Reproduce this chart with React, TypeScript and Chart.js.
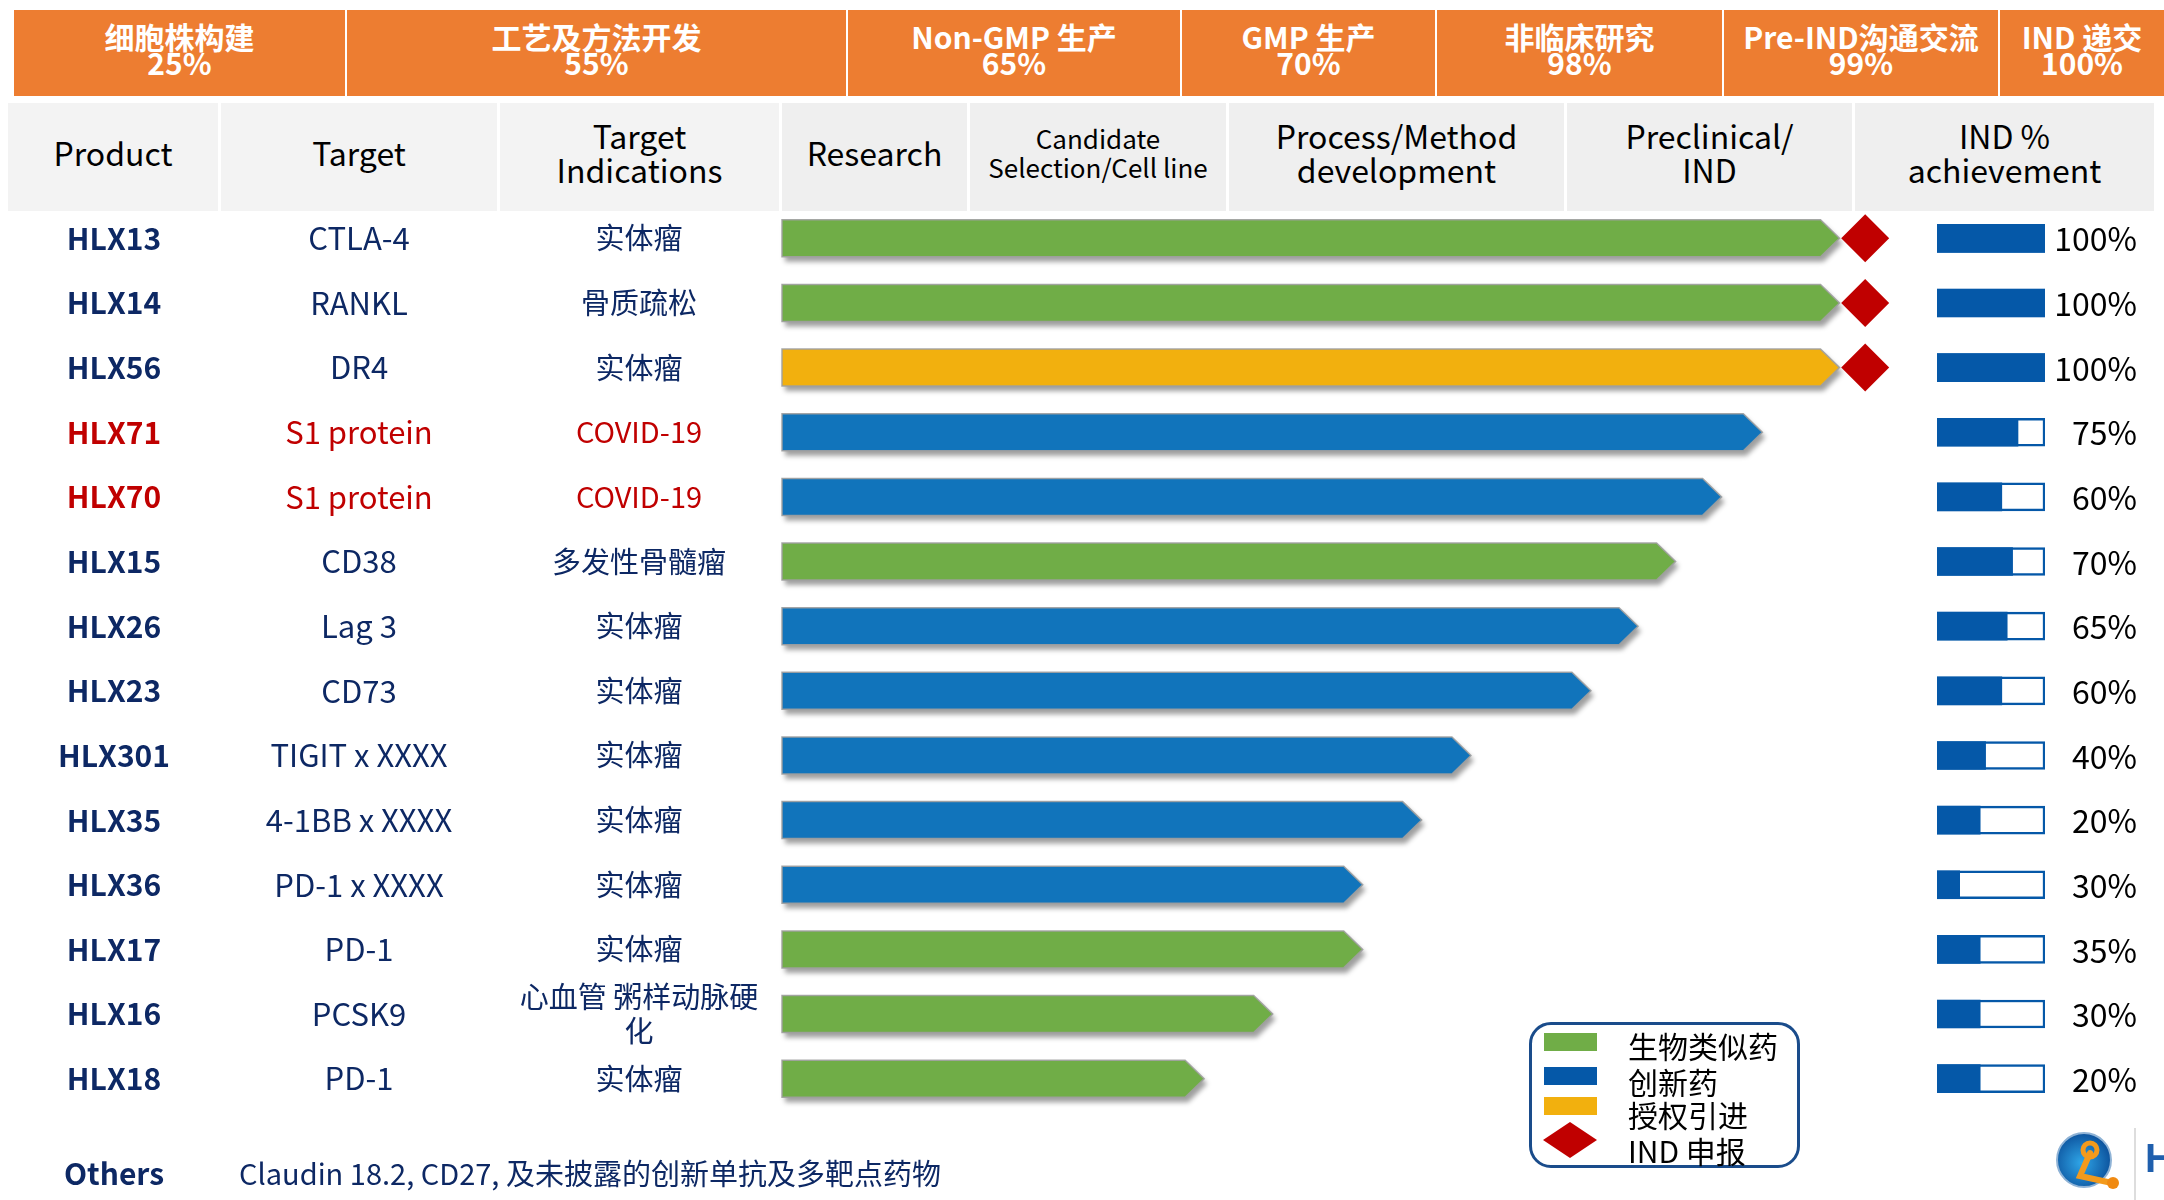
import React, { useEffect, useRef } from 'react';
import { Chart, registerables } from 'chart.js';

Chart.register(...registerables);

// ---------- data ----------
const stageHeaders = ['细胞株构建', '工艺及方法开发', 'Non-GMP 生产', 'GMP 生产', '非临床研究', 'Pre-IND沟通交流', 'IND 递交'];
const stagePercents = ['25%', '55%', '65%', '70%', '98%', '99%', '100%'];
const columnHeaders = ['Product', 'Target', 'Target\nIndications', 'Research', 'Candidate\nSelection/Cell line', 'Process/Method\ndevelopment', 'Preclinical/\nIND', 'IND %\nachievement'];

const products = ['HLX13', 'HLX14', 'HLX56', 'HLX71', 'HLX70', 'HLX15', 'HLX26', 'HLX23', 'HLX301', 'HLX35', 'HLX36', 'HLX17', 'HLX16', 'HLX18'];
const targets = ['CTLA-4', 'RANKL', 'DR4', 'S1 protein', 'S1 protein', 'CD38', 'Lag 3', 'CD73', 'TIGIT x XXXX', '4-1BB x XXXX', 'PD-1 x XXXX', 'PD-1', 'PCSK9', 'PD-1'];
const indications = ['实体瘤', '骨质疏松', '实体瘤', 'COVID-19', 'COVID-19', '多发性骨髓瘤', '实体瘤', '实体瘤', '实体瘤', '实体瘤', '实体瘤', '实体瘤', '心血管 粥样动脉硬\n化', '实体瘤'];
const highlighted = [false, false, false, true, true, false, false, false, false, false, false, false, false, false];
const drugTypes = ['bio', 'bio', 'lic', 'inn', 'inn', 'bio', 'inn', 'inn', 'inn', 'inn', 'inn', 'bio', 'bio', 'bio'];
const pipelineProgress = [98.7, 98.7, 98.7, 91.5, 87.7, 83.4, 79.9, 75.5, 64.3, 59.7, 54.2, 54.2, 45.8, 39.4];
const indFiled = [true, true, true, false, false, false, false, false, false, false, false, false, false, false];
const indMarkerValue = 101.1;
const indFill = [100, 100, 100, 75, 60, 70, 65, 60, 45, 40, 21, 40, 40, 40];
const indLabels = ['100%', '100%', '100%', '75%', '60%', '70%', '65%', '60%', '40%', '20%', '30%', '35%', '30%', '20%'];
const othersLabel = 'Others';
const othersText = 'Claudin 18.2, CD27, 及未披露的创新单抗及多靶点药物';
const legendLabels = ['生物类似药', '创新药', '授权引进', 'IND 申报'];

// ---------- styles ----------
const FONT = '"Noto Sans CJK SC", "Noto Sans", sans-serif';
const GREEN = '#70AD47';
const BLUE = '#1174BB';
const YELLOW = '#F2B00E';
const RED = '#C00000';
const PBLUE = '#0558A8';
const NAVY = '#0D2864';
const TEXTRED = '#C00000';
const ORANGE = '#ED7D31';

const stageEdges = [14, 347, 848, 1182, 1437, 1724, 2000, 2166];
const colEdges = [8, 221, 500, 782, 970, 1229, 1567, 1855, 2157];
const colCenters = [114, 359, 639];

const PAD_TOP = 206;
const PAD_BOTTOM = 89;

const arrowPlugin = {
  id: 'arrowBars',
  beforeDatasetDraw(chart: any, args: any) {
    const meta = args.meta;
    if (meta.type !== 'bar') return;
    const ds = chart.data.datasets[args.index];
    const ctx = chart.ctx;
    ctx.save();
    meta.data.forEach((el: any, i: number) => {
      const v = ds.data[i];
      if (v === null || v === undefined) return;
      const { x, y, base, height } = el.getProps(['x', 'y', 'base', 'height'], true);
      const head = 19;
      const top = y - height / 2;
      const bot = y + height / 2;
      const p = new Path2D();
      p.moveTo(base, top);
      p.lineTo(x - head, top);
      p.lineTo(x, y);
      p.lineTo(x - head, bot);
      p.lineTo(base, bot);
      p.closePath();
      ctx.shadowColor = 'rgba(0,0,0,0.38)';
      ctx.shadowBlur = 5;
      ctx.shadowOffsetX = 3;
      ctx.shadowOffsetY = 5;
      ctx.fillStyle = ds.backgroundColor;
      ctx.fill(p);
      ctx.shadowColor = 'transparent';
      ctx.shadowBlur = 0;
      ctx.shadowOffsetX = 0;
      ctx.shadowOffsetY = 0;
      ctx.strokeStyle = 'rgba(160,160,160,0.9)';
      ctx.lineWidth = 1.5;
      ctx.stroke(p);
    });
    ctx.restore();
    return false;
  },
};

const tablePlugin = {
  id: 'tableText',
  afterDraw(chart: any) {
    const ctx = chart.ctx;
    const yScale = chart.scales.y;
    ctx.save();
    ctx.textAlign = 'center';
    ctx.textBaseline = 'middle';
    products.forEach((p, i) => {
      const y = yScale.getPixelForValue(i);
      const color = highlighted[i] ? TEXTRED : NAVY;
      ctx.fillStyle = color;
      ctx.font = `700 30px ${FONT}`;
      ctx.fillText(p, colCenters[0], y);
      ctx.font = `400 31px ${FONT}`;
      ctx.fillText(targets[i], colCenters[1], y);
      ctx.font = `400 29px ${FONT}`;
      const lines = indications[i].split('\n');
      const lh = 34;
      lines.forEach((ln, k) => {
        ctx.fillText(ln, colCenters[2], y + (k - (lines.length - 1) / 2) * lh);
      });
    });
    ctx.restore();
  },
};

const labelPlugin = {
  id: 'indLabels',
  afterDatasetsDraw(chart: any) {
    const ctx = chart.ctx;
    const yScale = chart.scales.y;
    ctx.save();
    ctx.textAlign = 'right';
    ctx.textBaseline = 'middle';
    ctx.fillStyle = '#000000';
    ctx.font = `400 32px ${FONT}`;
    indLabels.forEach((t, i) => {
      ctx.fillText(t, 2137, yScale.getPixelForValue(i) + 1);
    });
    ctx.restore();
  },
};

export default function App() {
  const ref1 = useRef<HTMLCanvasElement>(null);
  const ref2 = useRef<HTMLCanvasElement>(null);

  useEffect(() => {
    document.body.style.margin = '0';
    const typeDs = (type: string, label: string, color: string) => ({
      type: 'bar' as const,
      label,
      data: pipelineProgress.map((v, i) => (drugTypes[i] === type ? v : null)),
      backgroundColor: color,
      borderWidth: 0,
      barThickness: 37,
      grouped: false,
    });
    const c1 = new Chart(ref1.current as HTMLCanvasElement, {
      type: 'bar',
      data: {
        labels: products,
        datasets: [
          {
            type: 'scatter' as const,
            label: legendLabels[3],
            data: products.filter((_, i) => indFiled[i]).map((p) => ({ x: indMarkerValue, y: p })) as any,
            pointStyle: 'rectRot',
            pointRadius: 24,
            pointHoverRadius: 24,
            backgroundColor: RED,
            borderWidth: 0,
            showLine: false,
          } as any,
          typeDs('bio', legendLabels[0], GREEN),
          typeDs('inn', legendLabels[1], BLUE),
          typeDs('lic', legendLabels[2], YELLOW),
        ],
      },
      options: {
        responsive: false,
        animation: false,
        devicePixelRatio: 1,
        indexAxis: 'y',
        layout: { padding: { left: 782, right: 257, top: PAD_TOP, bottom: PAD_BOTTOM } },
        scales: {
          x: { type: 'linear', min: 0, max: 105, display: false },
          y: { type: 'category', display: false, offset: true, grid: { display: false } },
        },
        plugins: { legend: { display: false }, tooltip: { enabled: false } },
        events: [],
      } as any,
      plugins: [arrowPlugin, tablePlugin],
    });

    const c2 = new Chart(ref2.current as HTMLCanvasElement, {
      type: 'bar',
      data: {
        labels: products,
        datasets: [
          {
            label: 'IND %',
            data: indFill,
            backgroundColor: PBLUE,
            borderWidth: 0,
            barThickness: 28,
            grouped: false,
          },
          {
            label: 'track',
            data: products.map(() => 100),
            backgroundColor: '#FFFFFF',
            borderColor: PBLUE,
            borderWidth: 2.5,
            borderSkipped: false,
            barThickness: 28,
            grouped: false,
          },
        ],
      },
      options: {
        responsive: false,
        animation: false,
        devicePixelRatio: 1,
        indexAxis: 'y',
        layout: { padding: { left: 1937, right: 119, top: PAD_TOP, bottom: PAD_BOTTOM } },
        scales: {
          x: { type: 'linear', min: 0, max: 100, display: false },
          y: { type: 'category', display: false, offset: true, grid: { display: false } },
        },
        plugins: { legend: { display: false }, tooltip: { enabled: false } },
        events: [],
      } as any,
      plugins: [labelPlugin],
    });

    return () => {
      c1.destroy();
      c2.destroy();
    };
  }, []);

  const abs = (l: number, t: number, w: number, h: number): React.CSSProperties => ({
    position: 'absolute',
    left: l,
    top: t,
    width: w,
    height: h,
  });

  return (
    <div style={{ position: 'fixed', left: 0, top: 0, width: 2164, height: 1200, background: '#fff', overflow: 'hidden', fontFamily: FONT }}>
      {stageHeaders.map((h, i) => (
        <div
          key={'s' + i}
          style={{
            ...abs(stageEdges[i], 10, stageEdges[i + 1] - stageEdges[i] - 2, 86),
            boxSizing: 'border-box',
            paddingBottom: 8,
            background: ORANGE,
            color: '#fff',
            fontWeight: 700,
            fontSize: 30,
            lineHeight: '26px',
            display: 'flex',
            flexDirection: 'column',
            alignItems: 'center',
            justifyContent: 'center',
            textAlign: 'center',
            whiteSpace: 'nowrap',
          }}
        >
          <div>{h}</div>
          <div>{stagePercents[i]}</div>
        </div>
      ))}
      {columnHeaders.map((h, i) => (
        <div
          key={'c' + i}
          style={{
            ...abs(colEdges[i], 103, colEdges[i + 1] - colEdges[i] - 3, 108),
            boxSizing: 'border-box',
            paddingBottom: 10,
            background: i < 3 ? '#F3F3F3' : '#EFEFEF',
            color: '#000',
            fontSize: i === 4 ? 26 : 32,
            lineHeight: i === 4 ? '29px' : '34px',
            display: 'flex',
            alignItems: 'center',
            justifyContent: 'center',
            textAlign: 'center',
            whiteSpace: 'pre-line',
          }}
        >
          {h}
        </div>
      ))}

      <canvas ref={ref1} width={2164} height={1200} style={{ position: 'absolute', left: 0, top: 0, width: 2164, height: 1200 }} />
      <canvas ref={ref2} width={2164} height={1200} style={{ position: 'absolute', left: 0, top: 0, width: 2164, height: 1200 }} />

      <div style={{ ...abs(14, 1152, 200, 40), color: NAVY, fontWeight: 700, fontSize: 30, lineHeight: '40px', textAlign: 'center' }}>{othersLabel}</div>
      <div style={{ ...abs(239, 1152, 900, 40), color: NAVY, fontSize: 29, lineHeight: '40px', whiteSpace: 'nowrap' }}>{othersText}</div>

      {/* legend */}
      <div style={{ ...abs(1529, 1022, 271, 146), boxSizing: 'border-box', border: '3px solid #1A4C8B', borderRadius: 22 }} />
      <div style={{ ...abs(1544, 1033, 53, 18), background: GREEN }} />
      <div style={{ ...abs(1544, 1067, 53, 18), background: PBLUE }} />
      <div style={{ ...abs(1544, 1097, 53, 18), background: YELLOW }} />
      <svg style={abs(1543, 1122, 54, 36)} viewBox="0 0 54 36">
        <polygon points="27,0 54,18 27,36 0,18" fill={RED} />
      </svg>
      {legendLabels.map((t, i) => (
        <div key={'l' + i} style={{ ...abs(1628, [1045, 1081, 1114, 1150][i] - 18, 170, 36), fontSize: 30, lineHeight: '36px', color: '#000', whiteSpace: 'nowrap' }}>
          {t}
        </div>
      ))}

      {/* logo */}
      <svg style={abs(2052, 1128, 70, 70)} viewBox="0 0 70 70">
        <defs>
          <radialGradient id="lg" cx="45%" cy="55%" r="60%">
            <stop offset="0%" stopColor="#2FA6E8" />
            <stop offset="100%" stopColor="#0A4C97" />
          </radialGradient>
        </defs>
        <circle cx="32" cy="32" r="27" fill="url(#lg)" stroke="#8FB3D6" strokeWidth="2" />
        <path d="M38 25 L28 48 L60 55" stroke="#F39A1C" strokeWidth="6" fill="none" strokeLinecap="round" />
        <circle cx="38" cy="22" r="7" fill="none" stroke="#F39A1C" strokeWidth="5" />
        <circle cx="61" cy="55" r="6" fill="#F08A12" />
      </svg>
      <div style={{ ...abs(2134, 1128, 2, 72), background: '#DDDDDD' }} />
      <div style={{ ...abs(2145, 1130, 60, 56), color: '#1F5FAD', fontWeight: 700, fontSize: 40, lineHeight: '56px', fontFamily: '"Liberation Sans", sans-serif' }}>H</div>
    </div>
  );
}
